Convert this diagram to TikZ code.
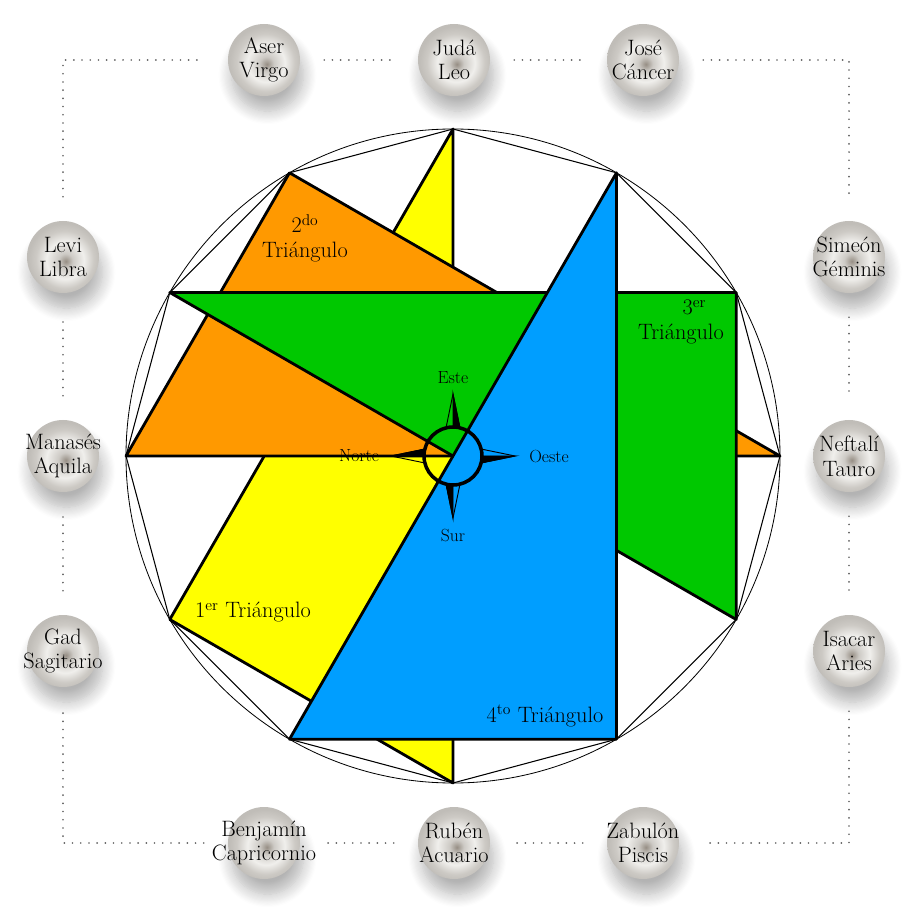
\documentclass[tikz,border=0pt]{standalone}
\usepackage{tikz}
\usetikzlibrary{shadows.blur}
\definecolor{triyellow}{RGB}{255,255,0}
\definecolor{triorange}{RGB}{255,153,0}
\definecolor{trigreen}{RGB}{0,200,0}
\definecolor{triblue}{RGB}{0,158,255}
\definecolor{framegray}{RGB}{95,95,95}
\definecolor{pearldark}{RGB}{150,142,132}
\definecolor{pearlmid}{RGB}{205,202,197}
\definecolor{pearllight}{RGB}{240,239,236}
\definecolor{pearlrim}{RGB}{192,189,184}
\pgfdeclareradialshading{pearl}{\pgfpoint{2bp}{-3bp}}{color(0bp)=(pearldark);color(5bp)=(pearlmid);color(13bp)=(pearllight);color(20bp)=(pearlmid);color(25bp)=(pearlrim);color(50bp)=(pearlrim)}
\tikzset{
  tribe/.style={circle, minimum size=2.16cm, inner sep=0pt, shading=pearl,
    blur shadow={shadow xshift=3pt, shadow yshift=-13pt, shadow blur radius=11pt,
      shadow blur steps=12, shadow opacity=30}},
  tribelabel/.style={align=center, font=\fontsize{19}{21}\selectfont},
  trilabel/.style={align=center, font=\fontsize{19}{21}\selectfont},
  cardinal/.style={font=\fontsize{15}{17}\selectfont},
  triangle/.style={draw=black, line width=2.4pt, line join=round},
  frame/.style={draw=framegray, line width=1.6pt, line cap=round, dash pattern=on 0pt off 7pt,
    shorten <=0.72cm, shorten >=0.72cm},
}

\begin{document}
\begin{tikzpicture}[x=0.03cm, y=0.03cm]
			%%%%% START %%%%%
			\useasboundingbox (-453,-467) rectangle (458,456);
			
			\draw[triangle, fill=triyellow] (90:327) -- (210:327) -- (270:327) -- cycle;
			\draw[triangle, fill=triorange] (120:327) -- (180:327) -- (0:327) -- cycle;
			\draw[triangle, fill=trigreen] (150:327) -- (30:327) -- (-30:327) -- cycle;
			\draw[triangle, fill=triblue] (60:327) -- (-60:327) -- (240:327) -- cycle;
			
			\draw[line width=0.7pt] (0,0) circle (327);
			\draw[line width=0.9pt] (0:327) -- (30:327) -- (60:327) -- (90:327) -- (120:327) -- (150:327) -- (180:327)
				-- (210:327) -- (240:327) -- (270:327) -- (300:327) -- (330:327) -- cycle;
			
			\node[trilabel] (tri1) at (-200,-156) {1\textsuperscript{er} Triángulo};
			\node[trilabel] (tri2) at (-148,218) {2\textsuperscript{do}\\Triángulo};
			\node[trilabel] (tri3) at (228,134) {\hspace{1.2em}3\textsuperscript{er}\\Triángulo};
			\node[trilabel] (tri4) at (92,-260) {4\textsuperscript{to} Triángulo};
			
			%%%%% ROSA %%%%%
			\draw[line width=0.8pt] (0,62) -- (-7,28) -- (7,28) -- cycle;
			\filldraw[line width=0.8pt] (0,62) -- (7,28) -- (0,28) -- cycle;
			\draw[line width=0.8pt, rotate=-90] (0,62) -- (-7,28) -- (7,28) -- cycle;
			\filldraw[line width=0.8pt, rotate=-90] (0,62) -- (7,28) -- (0,28) -- cycle;
			\draw[line width=0.8pt, rotate=-180] (0,62) -- (-7,28) -- (7,28) -- cycle;
			\filldraw[line width=0.8pt, rotate=-180] (0,62) -- (7,28) -- (0,28) -- cycle;
			\draw[line width=0.8pt, rotate=90] (0,62) -- (-7,28) -- (7,28) -- cycle;
			\filldraw[line width=0.8pt, rotate=90] (0,62) -- (7,28) -- (0,28) -- cycle;
			\draw[line width=3pt] (0,0) circle (29);
			
			\node[cardinal] (este) at (0,78) {Este};
			\node[cardinal] (oeste) at (96,0) {Oeste};
			\node[cardinal] (norte) at (-94,0) {Norte};
			\node[cardinal] (sur) at (0,-79) {Sur};
			
			%%%%% TRIBUS %%%%%
			\node[tribe] (aser) at (-189,396) {};
			\node[tribelabel] (aser-t) at (aser) {Aser\\Virgo};
			\node[tribe] (juda) at (1,396) {};
			\node[tribelabel] (juda-t) at (juda) {Judá\\Leo};
			\node[tribe] (jose) at (190,396) {};
			\node[tribelabel] (jose-t) at (jose) {José\\Cáncer};
			\node[tribe] (simeon) at (396,199) {};
			\node[tribelabel] (simeon-t) at (simeon) {Simeón\\Géminis};
			\node[tribe] (neftali) at (396,0) {};
			\node[tribelabel] (neftali-t) at (neftali) {Neftalí\\Tauro};
			\node[tribe] (isacar) at (396,-195) {};
			\node[tribelabel] (isacar-t) at (isacar) {Isacar\\Aries};
			\node[tribe] (zabulon) at (190,-387) {};
			\node[tribelabel] (zabulon-t) at (zabulon) {Zabulón\\Piscis};
			\node[tribe] (ruben) at (1,-387) {};
			\node[tribelabel] (ruben-t) at (ruben) {Rubén\\Acuario};
			\node[tribe] (benjamin) at (-189,-387) {};
			\node[tribelabel] (benjamin-t) at (benjamin) {Benjamín\\Capricornio};
			\node[tribe] (gad) at (-390,-195) {};
			\node[tribelabel] (gad-t) at (gad) {Gad\\Sagitario};
			\node[tribe] (manases) at (-390,0) {};
			\node[tribelabel] (manases-t) at (manases) {Manasés\\Aquila};
			\node[tribe] (levi) at (-390,199) {};
			\node[tribelabel] (levi-t) at (levi) {Levi\\Libra};
			
			\draw[frame] (levi) |- (aser);
			\draw[frame] (aser) -- (juda);
			\draw[frame] (juda) -- (jose);
			\draw[frame] (jose) -| (simeon);
			\draw[frame] (simeon) -- (neftali);
			\draw[frame] (neftali) -- (isacar);
			\draw[frame] (isacar) |- (zabulon);
			\draw[frame] (zabulon) -- (ruben);
			\draw[frame] (ruben) -- (benjamin);
			\draw[frame] (benjamin) -| (gad);
			\draw[frame] (gad) -- (manases);
			\draw[frame] (manases) -- (levi);
			
			%%%%% END %%%%%
\end{tikzpicture}
\end{document}
